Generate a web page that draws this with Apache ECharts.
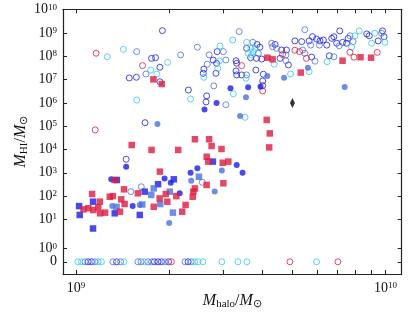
<!DOCTYPE html>
<html>
<head>
<meta charset="utf-8">
<script src="https://cdn.jsdelivr.net/npm/echarts@6/dist/echarts.min.js"></script>
<style>
html,body{margin:0;padding:0;background:#fff}
#chart{width:417px;height:326px}
</style>
</head>
<body>
<div id="chart"></div>
<script>
// all points are [log10(M_halo), log10(M_HI)]
const openBlue = [[9.279,9.10],[9.172,7.07],[9.195,7.10],[9.244,7.91],[9.257,7.94],[9.271,7.53],[9.271,6.91],[9.363,6.55],[9.422,6.30],[9.420,6.04],[9.456,8.20],[9.443,7.84],[9.454,7.70],[9.413,7.45],[9.411,7.27],[9.452,7.27],[9.517,7.81],[9.519,7.70],[9.517,7.37],[9.519,7.20],[9.535,7.20],[9.581,7.41],[9.605,7.23],[9.603,6.94],[9.603,6.74],[9.585,8.51],[9.594,8.39],[9.551,8.34],[9.564,7.94],[9.583,7.91],[9.600,7.88],[9.643,8.51],[9.664,8.27],[9.680,8.27],[9.659,7.91],[9.686,7.63],[9.707,8.66],[9.729,8.63],[9.761,7.97],[9.753,8.66],[9.764,8.84],[9.777,8.74],[9.788,8.66],[9.799,8.70],[9.810,8.48],[9.826,8.77],[9.833,8.84],[9.842,8.56],[9.852,9.09],[9.861,8.60],[9.818,8.02],[9.874,8.56],[9.879,8.77],[9.939,8.96],[9.947,8.88],[9.990,9.09],[9.995,8.84],[9.976,8.66],[9.162,3.58],[9.223,5.15]];
const openRoyal = [[9.196,8.20],[9.226,7.24],[9.338,8.06],[9.392,8.39],[9.527,9.06],[9.476,8.20],[9.430,8.06],[9.484,7.84],[9.424,7.66],[9.551,7.20],[9.445,6.73],[9.484,5.92],[9.571,8.60],[9.589,8.13],[9.632,8.56],[9.635,8.41],[9.648,8.34],[9.678,8.06],[9.678,7.81],[9.732,8.27],[9.739,8.13],[9.772,7.79],[9.758,8.48],[9.739,9.14],[9.786,8.48],[9.850,8.45],[9.833,7.98],[9.885,8.88],[9.895,8.63],[9.987,8.99],[9.408,2.59],[9.211,2.40],[9.177,2.19]];
const openCyan = [[9.101,7.98],[9.153,8.30],[9.196,6.12],[9.241,7.41],[9.261,7.24],[9.296,7.74],[9.506,8.70],[9.465,8.44],[9.463,7.80],[9.458,7.48],[9.413,7.10],[9.549,7.06],[9.370,6.17],[9.508,6.39],[9.546,5.38],[9.551,8.60],[9.565,8.34],[9.578,8.34],[9.556,8.13],[9.573,8.20],[9.567,8.06],[9.640,7.66],[9.811,7.77],[9.901,8.88],[9.915,9.09],[9.890,8.40],[9.965,8.99],[9.955,8.56],[9.998,8.60],[9.693,7.24],[9.753,7.34]];
const openRed = [[9.065,8.13],[9.062,4.84],[9.215,7.60],[9.535,7.60],[9.603,6.51],[9.667,8.08],[9.707,8.26],[9.722,8.20],[9.744,7.91],[9.885,8.17],[9.898,7.96],[9.973,8.17]];
const sqRed = [[9.250,7.01],[9.277,6.81],[9.618,7.94],[9.635,7.87],[9.726,7.30],[9.861,7.81],[9.919,7.96],[9.953,7.94],[9.616,5.27],[9.626,4.69],[9.624,4.09],[9.180,4.19],[9.244,3.98],[9.330,3.98],[9.384,4.44],[9.430,4.44],[9.438,4.15],[9.470,4.02],[9.422,3.69],[9.427,3.48],[9.474,3.43],[9.492,3.48],[9.271,3.05],[9.422,2.48],[9.476,2.55],[9.384,2.33],[9.379,2.19],[9.377,1.97],[9.125,2.69],[9.155,2.29],[9.052,2.09],[9.200,2.12],[9.290,2.09],[9.324,2.00],[9.270,1.90],[9.295,1.76],[9.251,1.54],[9.343,1.33],[9.354,1.62],[9.109,1.97],[9.119,2.00],[9.146,1.86],[9.157,1.66],[9.024,1.43],[9.040,1.48],[9.056,1.40],[9.072,1.52],[9.078,1.26],[9.094,1.29],[9.142,1.33],[9.077,1.76]];
const sqBlue = [[9.010,1.57],[9.012,1.19],[9.055,1.76],[9.055,0.69],[9.125,1.26],[9.206,1.19],[9.222,2.19],[9.265,2.51],[9.316,2.72],[9.132,2.69],[9.442,3.48]];
const sqRoyal = [[9.251,2.33],[9.303,2.19],[9.243,2.05],[9.272,1.66],[9.214,1.64],[9.313,1.29],[9.397,2.83],[9.131,1.54]];
const dotBlue = [[9.162,3.26],[9.114,2.72],[9.286,2.76],[9.306,2.57],[9.335,2.12],[9.183,1.57],[9.370,3.00],[9.392,3.19],[9.519,3.33],[9.538,3.00],[9.415,5.72],[9.454,6.00],[9.499,6.63],[9.556,6.67],[9.596,6.69]];
const dotRoyal = [[9.117,1.57],[9.206,1.62],[9.301,0.88],[9.372,2.66],[9.448,2.20],[9.471,3.10],[9.263,5.09],[9.530,5.44],[9.549,6.24],[9.618,7.15],[9.672,7.08],[9.749,7.51],[9.868,6.68]];
const diamondPts = [[9.699,6.0]];

// halos with no HI at all (M_HI = 0), log10(M_halo) only
const zeroCyan = [9.006,9.018,9.071,9.082,9.155,9.221,9.383,9.394,9.410,9.471,9.523,9.552,9.777];
const zeroRoyal = [9.029,9.061,9.119,9.144,9.200,9.210,9.232,9.244,9.287,9.352,9.372];
const zeroBlue = [9.039,9.050,9.131,9.253,9.265,9.276,9.299,9.362];
const zeroRed = [9.308,9.691,9.846];

const xLabelLogs = [9, 10];
const yLabelLogs = [10, 9, 8, 7, 6, 5, 4, 3, 2, 1, 0];

// the 1..10 decade is drawn wider in the original, and 0 sits under it
const DEC_STRETCH = 1.26;
const ZERO_POS = -0.82;
function yPos(l) { return l >= 1 ? l : 1 - (1 - l) * DEC_STRETCH; }

const BLUE = '#1c1ce6', ROYAL = '#4b6fe0', CYAN = '#35c4f4', RED = '#dc1a40';
const FONT = 'Liberation Serif';

const xTicks = [];
for (let d = 9; d <= 10; d++) {
  for (let k = 1; k <= 9; k++) {
    if (d === 10 && k > 1) break;
    xTicks.push(d + Math.log10(k));
  }
}
const yTicks = yLabelLogs.map(yPos).concat([ZERO_POS]);

function pts(arr) { return arr.map(p => [p[0], yPos(p[1])]); }
function zeros(arr) { return arr.map(x => [x, ZERO_POS]); }

function openSeries(color, data) {
  return { type: 'scatter', symbol: 'circle', symbolSize: 6, data: data,
    itemStyle: { color: 'rgba(0,0,0,0)', borderColor: color, borderWidth: 1 } };
}
function filledSeries(symbol, size, color, data) {
  return { type: 'scatter', symbol: symbol, symbolSize: size, data: data,
    itemStyle: { color: color } };
}

const rich = {
  b: { fontFamily: FONT, fontSize: 14, lineHeight: 14, color: '#111' },
  e: { fontFamily: FONT, fontSize: 9, lineHeight: 14, color: '#111', verticalAlign: 'top', padding: [0, 0, 4, 0] },
  m: { fontFamily: FONT, fontSize: 16, fontStyle: 'italic', color: '#111' },
  r: { fontFamily: FONT, fontSize: 16, color: '#111' },
  s: { fontFamily: FONT, fontSize: 11, color: '#111', padding: [7, 0, 0, 0] }
};

const frame = { show: true, onZero: false, lineStyle: { color: '#222', width: 1.2 } };
const tick = (vals) => ({ show: true, inside: true, length: 4, customValues: vals, lineStyle: { color: '#222' } });

const X_MIN = 8.958, X_MAX = 10.052, Y_MIN = -1.344, Y_MAX = 10.017;

var dom = document.getElementById('chart');
var myChart = echarts.init(dom, null, { renderer: 'canvas' });

var option = {
  animation: false,
  grid: { left: 63, right: 15.3, top: 9.3, bottom: 52, containLabel: false, outerBoundsMode: 'none' },
  xAxis: [
    {
      type: 'value', min: X_MIN, max: X_MAX, position: 'bottom',
      axisLine: frame, splitLine: { show: false }, axisTick: tick(xTicks),
      axisLabel: {
        customValues: xLabelLogs, margin: 7, rich: rich, hideOverlap: false,
        formatter: v => '{b|10}{e|' + Math.round(v) + '}'
      },
      name: '{m|M}{s|halo}{r|/}{m|M}{s|⊙}', nameLocation: 'middle', nameGap: 18, nameMoveOverlap: false,
      nameTextStyle: { rich: rich }
    },
    {
      type: 'value', min: X_MIN, max: X_MAX, position: 'top',
      axisLine: frame, splitLine: { show: false }, axisTick: tick(xTicks),
      axisLabel: { show: false }
    }
  ],
  yAxis: [
    {
      type: 'value', min: Y_MIN, max: Y_MAX, position: 'left',
      axisLine: frame, splitLine: { show: false }, axisTick: tick(yTicks),
      axisLabel: {
        customValues: yLabelLogs.map(yPos), margin: 6, rich: rich, hideOverlap: false,
        formatter: v => {
          const i = yLabelLogs.findIndex(l => Math.abs(yPos(l) - v) < 1e-3);
          return '{b|10}{e|' + yLabelLogs[i] + '}';
        }
      },
      name: '{m|M}{s|HI}{r|/}{m|M}{s|⊙}', nameLocation: 'middle', nameGap: 33, nameRotate: 90, nameMoveOverlap: false,
      nameTextStyle: { rich: rich }
    },
    {
      type: 'value', min: Y_MIN, max: Y_MAX, position: 'right',
      axisLine: frame, splitLine: { show: false }, axisTick: tick(yTicks),
      axisLabel: { show: false }
    },
    {
      // carries only the "0" label, so it is not dropped next to 10^0
      type: 'value', min: Y_MIN, max: Y_MAX, position: 'left',
      axisLine: { show: false }, axisTick: { show: false }, splitLine: { show: false },
      axisLabel: { customValues: [ZERO_POS], margin: 6, rich: rich, formatter: () => '{b|0}' }
    }
  ],
  series: [
    openSeries(BLUE, pts(openBlue).concat(zeros(zeroBlue))),
    openSeries(ROYAL, pts(openRoyal).concat(zeros(zeroRoyal))),
    openSeries(CYAN, pts(openCyan).concat(zeros(zeroCyan))),
    openSeries(RED, pts(openRed).concat(zeros(zeroRed))),
    filledSeries('circle', 6, BLUE, pts(dotBlue)),
    filledSeries('circle', 6, ROYAL, pts(dotRoyal)),
    filledSeries('rect', 6.5, BLUE, pts(sqBlue)),
    filledSeries('rect', 6.5, ROYAL, pts(sqRoyal)),
    filledSeries('rect', 6.5, RED, pts(sqRed)),
    filledSeries('diamond', [5, 10], '#000', pts(diamondPts))
  ]
};

option && myChart.setOption(option);
</script>
</body>
</html>
